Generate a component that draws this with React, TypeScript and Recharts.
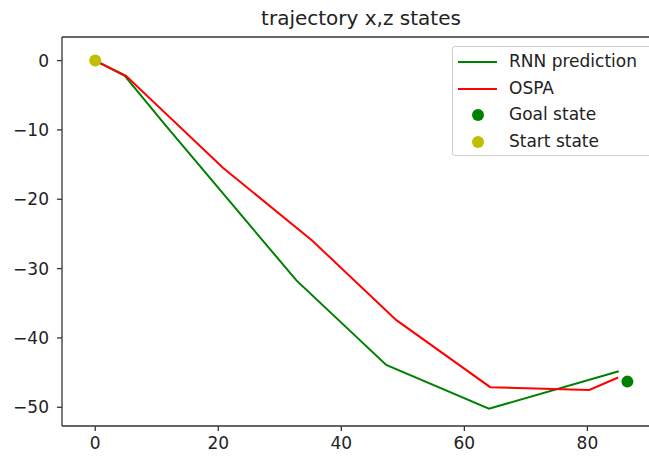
import React from 'react';
import { ComposedChart, Line, Scatter, XAxis, YAxis, ReferenceLine } from 'recharts';

// trajectory points (x, z)
const rnnX = [0, 4.8, 11.2, 20.8, 32.7, 47.3, 64.0, 85.1];
const rnnZ = [0, -2.2, -9.1, -19.2, -31.7, -43.9, -50.2, -44.8];
const ospaX = [0, 5.0, 20.8, 35.2, 48.9, 64.2, 80.3, 85.0];
const ospaZ = [0, -2.2, -15.5, -25.9, -37.4, -47.1, -47.5, -45.7];
const goalState = [86.5, -46.3];
const startState = [0, 0];
const xTicks = [0, 20, 40, 60, 80];
const yTicks = [0, -10, -20, -30, -40, -50];

const GREEN = '#008000';
const RED = '#ff0000';
const YELLOW = '#bfbf00';
const AXIS = '#333';
const FONT = '"DejaVu Sans", sans-serif';

const rnnData = rnnX.map((x, i) => ({ x, y: rnnZ[i] }));
const ospaData = ospaX.map((x, i) => ({ x, y: ospaZ[i] }));
const goalData = [{ x: goalState[0], y: goalState[1] }];
const startData = [{ x: startState[0], y: startState[1] }];

const xDomain: [number, number] = [-5.4, 91.8];
const yDomain: [number, number] = [-52.7, 3.4];

const dotShape = (color: string) => (props: any) => (
  <circle cx={props.cx} cy={props.cy} r={6} fill={color} />
);

const legendItems = [
  { label: 'RNN prediction', color: GREEN, kind: 'line' },
  { label: 'OSPA', color: RED, kind: 'line' },
  { label: 'Goal state', color: GREEN, kind: 'dot' },
  { label: 'Start state', color: YELLOW, kind: 'dot' },
];

const tickStyle = { fontSize: 17, fill: '#222', fontFamily: FONT };

export default function App() {
  return (
    <div style={{ position: 'relative', width: 649, height: 459, overflow: 'hidden', fontFamily: FONT, background: '#fff' }}>
      <style>{'body{margin:0}'}</style>
      <div style={{
        position: 'absolute', left: 0, width: 722, top: 8, textAlign: 'center',
        fontSize: 20, lineHeight: '20px', color: '#222',
      }}>
        trajectory x,z states
      </div>
      <div style={{ position: 'absolute', left: 0, top: 0 }}>
        <ComposedChart width={700} height={459} margin={{ top: 37, right: 40, bottom: 0, left: 0 }}>
          <XAxis type="number" dataKey="x" domain={xDomain} allowDataOverflow ticks={xTicks}
            height={33} tickSize={5} tickMargin={6} tick={tickStyle}
            axisLine={{ stroke: AXIS, strokeWidth: 1.3 }} tickLine={{ stroke: AXIS, strokeWidth: 1.3 }} />
          <YAxis type="number" dataKey="y" domain={yDomain} allowDataOverflow ticks={yTicks}
            width={62} tickSize={5} tickMargin={8} tick={tickStyle}
            tickFormatter={(v: number) => (v < 0 ? `\u2212${Math.abs(v)}` : `${v}`)}
            axisLine={{ stroke: AXIS, strokeWidth: 1.3 }} tickLine={{ stroke: AXIS, strokeWidth: 1.3 }} />
          {/* top and right spines */}
          <ReferenceLine y={yDomain[1]} stroke={AXIS} strokeWidth={1.3} ifOverflow="visible" />
          <ReferenceLine x={xDomain[1]} stroke={AXIS} strokeWidth={1.3} ifOverflow="visible" />
          <Scatter data={goalData} dataKey="y" shape={dotShape(GREEN)} isAnimationActive={false} />
          <Scatter data={startData} dataKey="y" shape={dotShape(YELLOW)} isAnimationActive={false} />
          <Line data={rnnData} dataKey="y" type="linear" stroke={GREEN} strokeWidth={2}
            dot={false} activeDot={false} isAnimationActive={false} />
          <Line data={ospaData} dataKey="y" type="linear" stroke={RED} strokeWidth={2}
            dot={false} activeDot={false} isAnimationActive={false} />
        </ComposedChart>
      </div>
      <div style={{
        position: 'absolute', left: 452, top: 46, width: 200, height: 110,
        border: '1px solid #d0d0d0', borderRadius: 3, background: 'rgba(255,255,255,0.8)',
        boxSizing: 'border-box',
      }}>
        {legendItems.map((it, i) => (
          <div key={it.label} style={{ position: 'absolute', left: 0, top: 2 + i * 26.6, height: 26, width: 200 }}>
            {it.kind === 'line' ? (
              <div style={{ position: 'absolute', left: 5, top: 12, width: 39, height: 2, background: it.color }} />
            ) : (
              <div style={{ position: 'absolute', left: 19, top: 7, width: 12, height: 12, borderRadius: 6, background: it.color }} />
            )}
            <div style={{ position: 'absolute', left: 56, top: 2, fontSize: 17, lineHeight: '20px', color: '#222', whiteSpace: 'nowrap' }}>
              {it.label}
            </div>
          </div>
        ))}
      </div>
    </div>
  );
}
